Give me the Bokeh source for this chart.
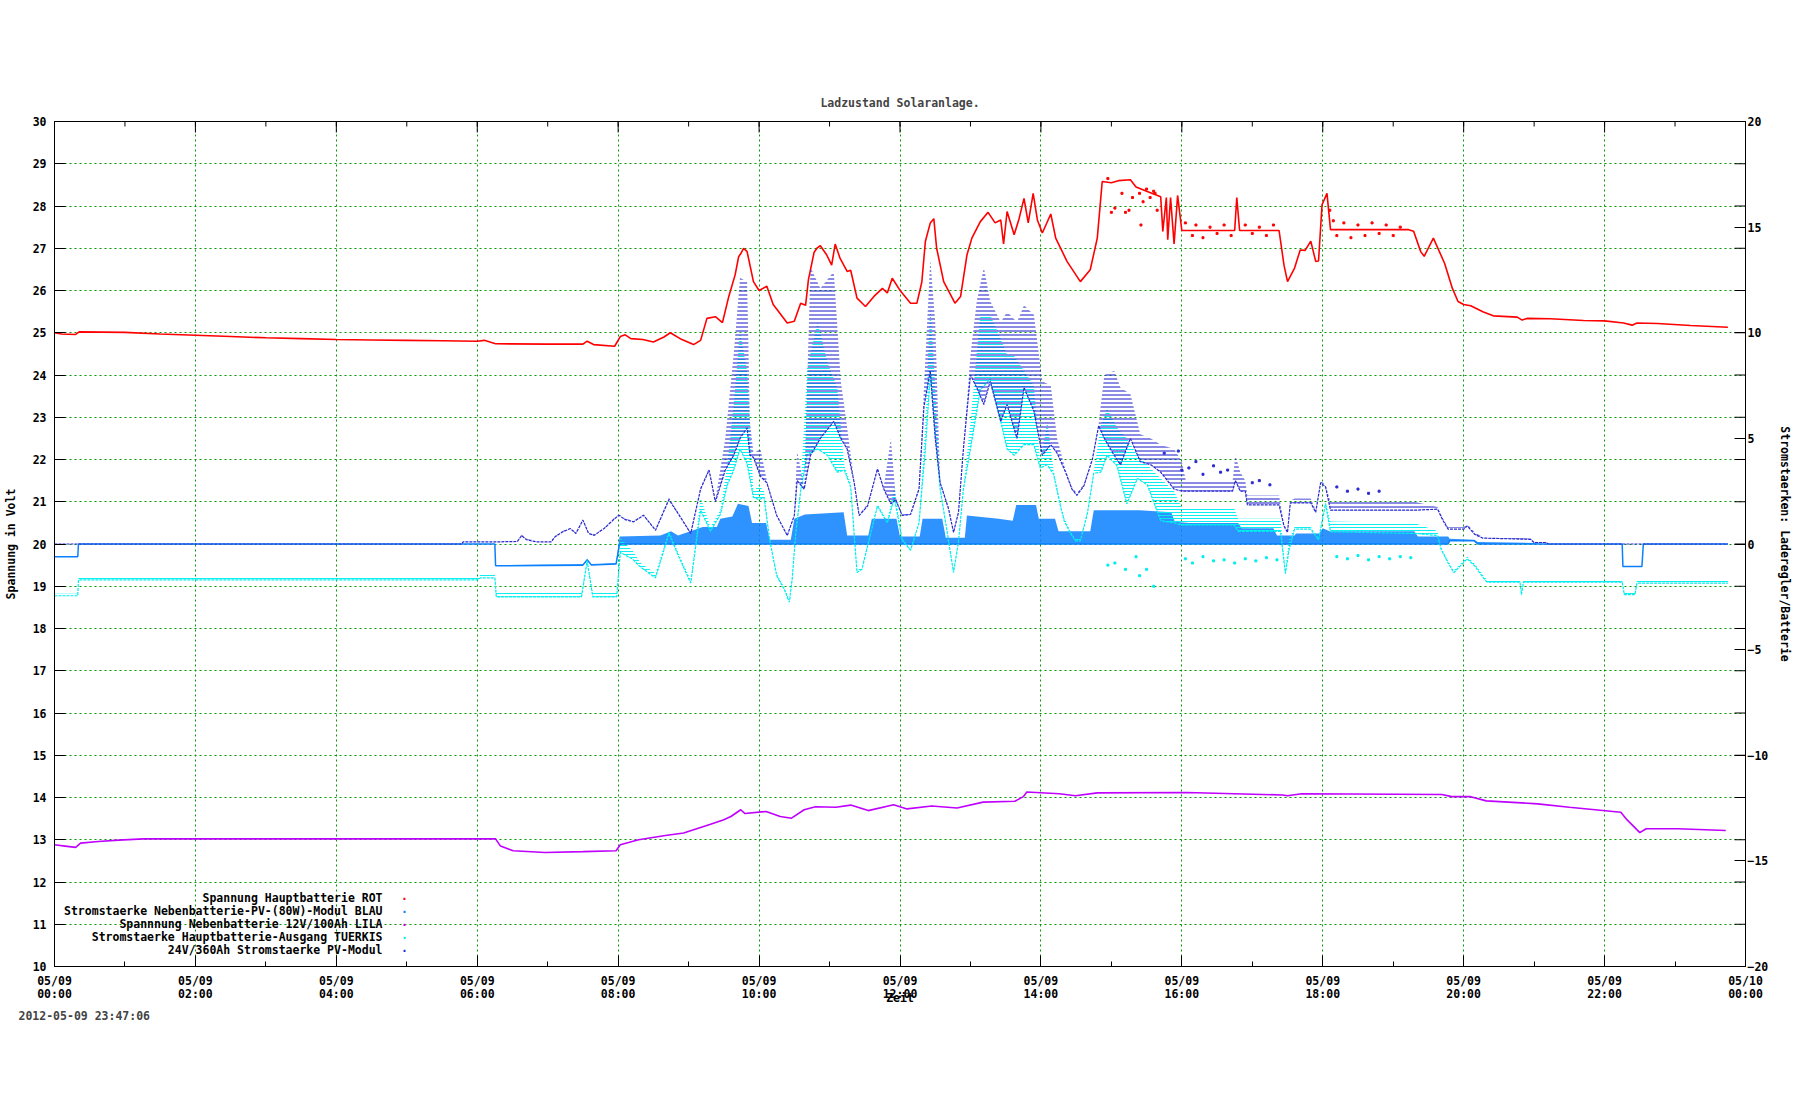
from bokeh.plotting import figure
from bokeh.models import Range1d, LinearAxis, FixedTicker, Label, Title
from bokeh.embed import file_html
from bokeh.resources import INLINE

# ---------------- data (hours since 05/09 00:00) ----------------
red_t = [0.0, 0.1, 0.3, 0.35, 1.0, 1.5, 2.0, 2.5, 3.0, 3.5, 4.0, 4.5, 5.0, 5.5, 6.0, 6.1, 6.26, 7.0, 7.5, 7.56, 7.65, 7.95,
         8.03, 8.1, 8.18, 8.35, 8.5, 8.65, 8.74, 8.88, 9.07, 9.17, 9.26, 9.38, 9.48, 9.57, 9.66, 9.71, 9.75, 9.78, 9.83,
         9.92, 10.0, 10.11, 10.2, 10.4, 10.5, 10.59, 10.66, 10.7, 10.78, 10.82, 10.87, 10.96, 11.03, 11.08, 11.15, 11.25,
         11.3, 11.39, 11.51, 11.63, 11.75, 11.82, 11.89, 12.01, 12.15, 12.24, 12.31, 12.36, 12.43, 12.48, 12.52, 12.62,
         12.78, 12.86, 12.95, 13.02, 13.14, 13.25, 13.35, 13.43, 13.47, 13.52, 13.62, 13.69, 13.76, 13.82, 13.89, 13.95,
         14.02, 14.14, 14.21, 14.37, 14.56, 14.7, 14.8, 14.87, 15.0, 15.1, 15.27, 15.35, 15.5, 15.7, 15.73, 15.78, 15.8,
         15.84, 15.89, 15.94, 16.0, 16.75, 16.78, 16.82, 17.38, 17.45, 17.5, 17.6, 17.68, 17.75, 17.83, 17.9, 17.94,
         17.99, 18.06, 18.11, 19.22, 19.29, 19.39, 19.44, 19.57, 19.73, 19.84, 19.92, 20.0, 20.1, 20.28, 20.42, 20.76,
         20.83, 20.9, 21.23, 21.7, 22.0, 22.27, 22.39, 22.46, 22.75, 23.22, 23.75]
red_v = [25.0, 24.97, 24.96, 25.02, 25.01, 24.97, 24.94, 24.91, 24.88, 24.86, 24.84, 24.83, 24.82, 24.81, 24.8, 24.82,
         24.74, 24.73, 24.73, 24.8, 24.72, 24.68, 24.91, 24.95, 24.86, 24.84, 24.78, 24.9, 25.0, 24.86, 24.72, 24.82,
         25.34, 25.38, 25.24, 25.86, 26.37, 26.8, 26.9, 27.0, 26.92, 26.21, 26.0, 26.1, 25.67, 25.23, 25.27, 25.7, 25.65,
         26.25, 26.9, 27.0, 27.06, 26.84, 26.6, 27.1, 26.76, 26.45, 26.48, 25.82, 25.62, 25.86, 26.05, 25.94, 26.29,
         25.98, 25.7, 25.7, 26.2, 27.16, 27.6, 27.7, 27.0, 26.21, 25.7, 25.86, 26.84, 27.24, 27.63, 27.85, 27.6, 27.67,
         27.1, 27.87, 27.32, 27.7, 28.18, 27.6, 28.3, 27.67, 27.36, 27.81, 27.24, 26.69, 26.21, 26.49, 27.24, 28.58,
         28.55, 28.6, 28.62, 28.45, 28.35, 28.22, 27.4, 28.2, 27.2, 28.2, 27.1, 28.25, 27.42, 27.42, 28.2, 27.42, 27.42,
         26.6, 26.21, 26.53, 26.96, 26.95, 27.17, 26.69, 26.7, 28.03, 28.3, 27.44, 27.44, 27.4, 26.92, 26.81, 27.24,
         26.64, 26.05, 25.74, 25.67, 25.64, 25.49, 25.4, 25.37, 25.3, 25.34, 25.33, 25.29, 25.28, 25.23, 25.18, 25.23,
         25.22, 25.17, 25.13]

red_dot_t = [14.95, 15.0, 15.05, 15.15, 15.2, 15.25, 15.3, 15.4, 15.42, 15.45, 15.5, 15.55, 15.6, 15.62, 15.65, 16.05,
             16.15, 16.2, 16.3, 16.4, 16.5, 16.6, 16.7, 16.9, 17.0, 17.1, 17.2, 17.3, 18.1, 18.15, 18.2, 18.3, 18.4,
             18.5, 18.6, 18.7, 18.8, 18.9, 19.0, 19.1]
red_dot_v = [28.65, 27.85, 27.95, 28.3, 27.85, 27.9, 28.2, 28.3, 27.55, 28.1, 28.4, 28.2, 28.35, 28.3, 27.9, 27.6,
             27.3, 27.55, 27.25, 27.5, 27.35, 27.55, 27.3, 27.55, 27.35, 27.5, 27.3, 27.55, 27.9, 27.65, 27.3, 27.6,
             27.25, 27.55, 27.3, 27.6, 27.35, 27.55, 27.3, 27.5]

purple_t = [0.0, 0.15, 0.3, 0.37, 0.62, 0.91, 1.26, 6.26, 6.33, 6.51, 6.96, 7.5, 7.97, 8.03, 8.29, 8.67, 8.93, 9.3,
            9.49, 9.6, 9.74, 9.8, 10.1, 10.3, 10.46, 10.64, 10.8, 11.09, 11.3, 11.55, 11.91, 12.1, 12.45, 12.81, 13.18,
            13.63, 13.75, 13.8, 14.26, 14.49, 14.8, 16.07, 17.43, 17.5, 17.7, 19.69, 19.83, 20.1, 20.32, 21.05, 21.5,
            22.23, 22.32, 22.5, 22.59, 23.04, 23.72]
purple_v = [12.88, 12.85, 12.82, 12.92, 12.96, 12.99, 13.02, 13.02, 12.85, 12.74, 12.7, 12.72, 12.74, 12.88, 13.0,
            13.1, 13.16, 13.36, 13.47, 13.55, 13.71, 13.62, 13.67, 13.55, 13.51, 13.71, 13.78, 13.77, 13.82, 13.69,
            13.83, 13.73, 13.8, 13.75, 13.89, 13.91, 14.02, 14.13, 14.09, 14.04, 14.11, 14.12, 14.06, 14.04, 14.09,
            14.07, 14.02, 14.02, 13.92, 13.85, 13.77, 13.65, 13.47, 13.17, 13.26, 13.26, 13.22]

# currents (right axis, A): time, lower / upper edge of the point cloud
blue_t = [0.0, 0.33, 0.34, 6.25, 6.26, 7.5, 7.56, 7.62, 7.97, 8.02, 8.6, 8.75, 8.85, 9.2, 9.4, 9.45, 9.62, 9.7, 9.85,
          9.9, 10.1, 10.15, 10.45, 10.5, 10.65, 11.2, 11.25, 11.55, 11.6, 11.95, 12.0, 12.28, 12.32, 12.6, 12.65, 12.92,
          12.95, 13.4, 13.6, 13.65, 13.93, 13.97, 14.2, 14.25, 14.7, 14.75, 15.4, 15.85, 15.9, 16.1, 16.8, 16.85, 17.3,
          17.35, 17.6, 17.62, 17.95, 18.0, 18.1, 19.3, 19.35, 19.78, 19.8, 20.15, 20.2, 21.0, 21.1, 22.25, 22.26, 22.53,
          22.55, 23.75]
blue_lo = [-0.6, -0.6, 0, 0, -1.03, -1.0, -0.75, -1.0, -0.95, 0, 0, 0, 0, 0, 0, 0, 0, 0, 0, 0, 0, 0, 0, 0, 0, 0, 0, 0,
           0, 0, 0, 0, 0, 0, 0, 0, 0, 0, 0, 0, 0, 0, 0, 0, 0, 0, 0, 0, 0, 0, 0, 0, 0, 0, 0, 0, 0, 0, 0, 0, 0, 0, 0.15,
           0.15, 0, 0, 0, 0, -1.07, -1.07, 0, 0]
blue_hi = [-0.6, -0.6, 0, 0, -1.0, -0.95, -0.7, -0.95, -0.9, 0.35, 0.4, 0.6, 0.4, 0.8, 0.8, 1.2, 1.3, 1.9, 1.8, 1.0,
           1.0, 0.2, 0.2, 1.2, 1.4, 1.5, 0.4, 0.4, 1.2, 1.2, 0.35, 0.35, 1.2, 1.2, 0.3, 0.3, 1.35, 1.2, 1.1, 1.85, 1.85,
           1.2, 1.2, 0.6, 0.6, 1.6, 1.6, 1.5, 1.05, 1.0, 1.0, 0.75, 0.75, 0.4, 0.4, 0.5, 0.5, 0.75, 0.6, 0.6, 0.36,
           0.36, 0.25, 0.2, 0.1, 0.05, 0, 0, -1.05, -1.05, 0, 0]

cyan_t = [0.0, 0.33, 0.34, 6.0, 6.05, 6.25, 6.27, 7.48, 7.56, 7.64, 7.98, 8.03, 8.2, 8.32, 8.53, 8.72, 8.88, 9.03,
          9.17, 9.31, 9.45, 9.55, 9.64, 9.73, 9.83, 9.92, 10.0, 10.07, 10.15, 10.25, 10.35, 10.43, 10.47, 10.52, 10.59,
          10.68, 10.83, 10.97, 11.11, 11.21, 11.3, 11.39, 11.46, 11.54, 11.68, 11.82, 11.92, 12.03, 12.15, 12.27,
          12.36, 12.43, 12.5, 12.57, 12.67, 12.76, 12.83, 12.9, 13.0, 13.14, 13.28, 13.43, 13.52, 13.62, 13.76, 13.9,
          13.99, 14.09, 14.18, 14.28, 14.33, 14.42, 14.49, 14.56, 14.66, 14.75, 14.85, 14.94, 15.08, 15.22, 15.37,
          15.51, 15.7, 15.89, 16.0, 16.74, 16.8, 17.4, 17.47, 17.52, 17.6, 17.83, 17.94, 18.04, 18.11, 19.3, 19.63,
          19.68, 19.78, 19.86, 19.95, 20.05, 20.16, 20.28, 20.33, 20.8, 20.82, 20.85, 22.25, 22.28, 22.43, 22.46, 23.75]
cyan_lo = [-2.45, -2.45, -1.7, -1.7, -1.6, -1.6, -2.5, -2.5, -0.8, -2.5, -2.5, -0.4, -0.7, -1.1, -1.6, 0.5, -0.75,
           -1.85, 1.6, 0.6, 1.4, 2.8, 3.5, 4.5, 3.8, 2.2, 2.1, 2.2, 0.2, -1.5, -2.1, -2.75, -1.65, 0.5, 2.5, 4.2, 4.5,
           4.2, 3.4, 3.5, 2.7, -1.35, -1.2, -0.1, 1.8, 1.0, 2.2, 0.2, -0.3, 1.0, 4.5, 8.0, 5.2, 2.6, 0.55, -1.35, 0.1,
           2.6, 4.5, 7.3, 7.8, 5.8, 4.5, 4.2, 4.7, 4.7, 3.6, 3.75, 3.3, 1.75, 1.1, 0.5, 0.15, 0.15, 1.45, 3.35, 3.4,
           4.2, 3.7, 1.9, 3.1, 2.8, 1.1, 1.0, 0.9, 0.9, 0.6, 0.6, -1.4, -0.3, 0.7, 0.7, 0.2, 1.9, 0.58, 0.5, 0.4,
           -0.25, -0.9, -1.35, -1.05, -0.7, -1.05, -1.6, -1.8, -1.8, -2.4, -1.8, -1.8, -2.4, -2.4, -1.85, -1.85]
cyan_hi = [-2.35, -2.35, -1.58, -1.58, -1.45, -1.45, -2.3, -2.3, -0.7, -2.3, -2.3, 0.27, -0.3, -0.9, -1.4, 0.65,
           -0.6, -1.7, 2.2, 0.8, 1.6, 3.8, 6.6, 10.1, 8.2, 2.5, 2.8, 2.5, 0.3, -1.4, -2.0, -2.6, -1.55, 0.65, 2.7, 8.3,
           10.5, 8.6, 7.4, 3.7, 2.9, -1.25, -1.1, 0.0, 1.9, 1.1, 2.7, 0.3, -0.25, 1.1, 5.8, 11.3, 7.4, 2.7, 0.65,
           -1.25, 0.15, 2.7, 5.8, 10.85, 10.85, 9.7, 8.95, 8.9, 8.2, 7.5, 3.8, 5.8, 3.5, 1.9, 1.25, 0.6, 0.25, 0.25,
           1.55, 3.45, 5.6, 6.4, 5.5, 5.0, 4.2, 3.75, 3.1, 2.5, 1.7, 1.7, 1.2, 1.2, -1.2, 0.2, 0.8, 0.8, 0.3, 2.0,
           1.07, 1.0, 0.6, -0.15, -0.8, -1.25, -0.95, -0.6, -0.95, -1.5, -1.68, -1.68, -2.3, -1.68, -1.68, -2.3, -2.3,
           -1.7, -1.7]
cyan_dot_t = [14.95, 15.05, 15.2, 15.35, 15.4, 15.5, 15.6, 16.05, 16.15, 16.3, 16.45, 16.6, 16.75, 16.9, 17.05, 17.2,
              17.35, 18.2, 18.35, 18.5, 18.65, 18.8, 18.95, 19.1, 19.25]
cyan_dot_a = [-1.0, -0.9, -1.2, -0.6, -1.5, -1.2, -2.0, -0.7, -0.9, -0.6, -0.8, -0.75, -0.9, -0.7, -0.8, -0.65, -0.75,
              -0.6, -0.7, -0.55, -0.75, -0.6, -0.7, -0.6, -0.65]

violet_t = [0.0, 5.78, 5.8, 6.26, 6.57, 6.63, 6.7, 6.84, 7.05, 7.1, 7.21, 7.32, 7.4, 7.5, 7.58, 7.66, 7.8, 7.95, 8.01,
            8.1, 8.22, 8.36, 8.53, 8.72, 8.84, 9.03, 9.17, 9.29, 9.38, 9.52, 9.64, 9.73, 9.83, 9.87, 9.92, 10.02, 10.11,
            10.25, 10.4, 10.5, 10.54, 10.64, 10.73, 10.87, 11.06, 11.16, 11.25, 11.35, 11.42, 11.54, 11.68, 11.77,
            11.87, 11.94, 12.03, 12.15, 12.27, 12.34, 12.43, 12.5, 12.57, 12.69, 12.76, 12.83, 12.9, 13.0, 13.09,
            13.19, 13.28, 13.43, 13.52, 13.66, 13.76, 13.9, 14.02, 14.14, 14.23, 14.35, 14.44, 14.51, 14.61, 14.73,
            14.82, 14.9, 15.04, 15.13, 15.27, 15.41, 15.56, 15.7, 15.89, 16.0, 16.06, 16.72, 16.76, 16.83, 16.9, 16.93,
            17.38, 17.45, 17.5, 17.54, 17.6, 17.83, 17.9, 17.97, 18.04, 18.11, 19.3, 19.63, 19.7, 19.78, 20.0, 20.05,
            20.16, 20.27, 20.95, 21.0, 21.17, 21.2, 23.75]
violet_lo = [0, 0, 0.1, 0.1, 0.12, 0.4, 0.2, 0.1, 0.1, 0.33, 0.57, 0.73, 0.5, 1.13, 0.5, 0.41, 0.73, 1.2, 1.36, 1.15,
             1.05, 1.36, 0.65, 2.1, 1.5, 0.5, 2.6, 3.5, 2.0, 3.5, 4.2, 5.0, 5.5, 4.2, 4.1, 3.2, 2.9, 1.35, 0.4, 1.35,
             3.0, 2.6, 4.2, 5.0, 5.8, 5.0, 4.5, 2.9, 1.35, 1.8, 3.55, 2.6, 1.9, 2.1, 1.35, 1.4, 2.6, 6.5, 8.2, 5.0, 2.9,
             1.65, 0.55, 1.5, 4.5, 8.0, 7.4, 6.6, 7.7, 5.8, 6.6, 5.0, 7.4, 6.3, 4.2, 4.7, 4.3, 3.4, 2.6, 2.3, 2.75, 4.0,
             5.6, 5.0, 4.2, 3.75, 5.0, 3.9, 3.75, 3.4, 2.6, 2.5, 2.5, 2.5, 3.0, 2.5, 2.5, 1.85, 1.85, 0.85, 0.55, 1.95,
             1.95, 1.95, 1.5, 2.9, 2.7, 1.6, 1.6, 1.65, 1.15, 0.7, 0.7, 0.85, 0.45, 0.28, 0.22, 0.07, 0.07, 0, 0]
violet_hi = [0, 0, 0.14, 0.14, 0.16, 0.45, 0.25, 0.15, 0.15, 0.37, 0.61, 0.77, 0.55, 1.17, 0.55, 0.45, 0.77, 1.25,
             1.4, 1.2, 1.1, 1.4, 0.7, 2.2, 1.55, 0.55, 2.7, 3.6, 2.1, 5.0, 9.0, 12.6, 12.4, 5.8, 4.3, 4.5, 3.0, 1.4,
             0.45, 1.4, 4.4, 2.7, 13.1, 12.1, 12.9, 7.7, 5.5, 3.0, 1.4, 1.9, 3.65, 2.7, 5.0, 2.2, 1.4, 1.5, 2.7, 7.4,
             13.5, 10.5, 3.0, 1.75, 0.6, 1.55, 4.6, 8.95, 11.5, 13.1, 11.5, 10.5, 11.0, 10.5, 11.3, 10.85, 7.7, 7.5,
             5.0, 3.5, 2.7, 2.4, 2.85, 4.1, 5.7, 8.0, 8.2, 7.4, 7.1, 5.2, 5.0, 4.7, 4.5, 3.9, 2.95, 2.95, 4.2, 3.4, 3.0,
             2.3, 2.3, 0.95, 0.6, 2.05, 2.15, 2.15, 1.6, 3.0, 2.8, 2.0, 2.0, 1.75, 1.25, 0.8, 0.8, 0.95, 0.55, 0.33,
             0.26, 0.11, 0.11, 0, 0]
violet_dot_t = [15.75, 15.95, 16.0, 16.1, 16.2, 16.3, 16.45, 16.55, 16.65, 17.0, 17.1, 17.25, 18.2, 18.35, 18.5,
                18.65, 18.8]
violet_dot_a = [4.3, 4.4, 3.5, 3.6, 3.9, 3.3, 3.7, 3.4, 3.5, 2.9, 3.0, 2.8, 2.7, 2.5, 2.6, 2.4, 2.5]

x_ticks = [0, 2, 4, 6, 8, 10, 12, 14, 16, 18, 20, 22, 24]
x_minor = list(range(0, 25))
x_tick_labels = ["05/09\n00:00", "05/09\n02:00", "05/09\n04:00", "05/09\n06:00", "05/09\n08:00", "05/09\n10:00",
                 "05/09\n12:00", "05/09\n14:00", "05/09\n16:00", "05/09\n18:00", "05/09\n20:00", "05/09\n22:00",
                 "05/10\n00:00"]
y_ticks = list(range(10, 31))
y2_ticks = [-20, -15, -10, -5, 0, 5, 10, 15, 20]

legend_texts = ["Spannung Hauptbatterie ROT",
                "Stromstaerke Nebenbatterie-PV-(80W)-Modul BLAU",
                "Spannnung Nebenbatterie 12V/100Ah LILA",
                "Stromstaerke Hauptbatterie-Ausgang TUERKIS",
                "24V/360Ah Stromstaerke PV-Modul"]
legend_colors = ["#ff0000", "#0a80ff", "#c000ff", "#00eeee", "#2a2ad0"]

# ---------------- style ----------------
FONT = "DejaVu Sans Mono"
FS = "11.5px"
RED, BLUE, PURPLE, CYAN, VIOLET = legend_colors
GRID = "#009900"
X0, X1, Y0, Y1 = 0, 24, 10, 30
FRAME_W, FRAME_H = 1691, 845
TICK, MINOR = 11, 5  # inward tick lengths in px

p = figure(frame_width=FRAME_W, frame_height=FRAME_H, output_backend="svg", toolbar_location=None,
           x_range=Range1d(X0, X1), y_range=Range1d(Y0, Y1),
           min_border_left=46, min_border_right=0, min_border_top=121, min_border_bottom=118,
           background_fill_color="white", border_fill_color="white")
p.outline_line_color = "black"
p.outline_line_width = 1
p.extra_y_ranges = {"cur": Range1d(-20, 20)}

p.title.text = "Ladzustand Solaranlage."
p.title.align = "center"
p.title.text_font = FONT
p.title.text_font_size = FS
p.title.text_font_style = "bold"
p.title.standoff = 23


def style(ax):
    ax.axis_line_color = "black"
    ax.major_tick_in = TICK
    ax.major_tick_out = 0
    ax.minor_tick_in = MINOR
    ax.minor_tick_out = 0
    ax.major_tick_line_color = "black"
    ax.minor_tick_line_color = "black"
    ax.major_label_text_font = FONT
    ax.major_label_text_font_size = FS
    ax.major_label_text_font_style = "bold"
    ax.major_label_text_color = "black"
    ax.axis_label_text_font = FONT
    ax.axis_label_text_font_size = FS
    ax.axis_label_text_font_style = "bold"
    ax.axis_label_text_color = "black"


xa = p.xaxis[0]
xa.ticker = FixedTicker(ticks=x_ticks, minor_ticks=x_minor)
xa.major_label_overrides = {t: s for t, s in zip(x_ticks, x_tick_labels)}
style(xa)
xa.major_label_standoff = 7
xa.major_label_text_line_height = 0.97
xa.axis_label = "Zeit"
xa.axis_label_standoff = -13

ya = p.yaxis[0]
ya.ticker = FixedTicker(ticks=y_ticks, minor_ticks=[])
style(ya)
ya.major_label_standoff = 8
ya.axis_label = "Spannung in Volt"
ya.axis_label_standoff = 12

ra = LinearAxis(y_range_name="cur", ticker=FixedTicker(ticks=y2_ticks, minor_ticks=[]))
style(ra)
ra.major_label_standoff = 2
ra.axis_label = "Stromstaerken: Laderegler/Batterie"
ra.axis_label_standoff = 7
p.add_layout(ra, "right")

stamp = Title(text="2012-05-09 23:47:06", align="left", offset=-36, standoff=0, vertical_align="top",
              text_font=FONT, text_font_size=FS, text_font_style="bold")
p.add_layout(stamp, "below")

for g in (p.xgrid[0], p.ygrid[0]):
    g.grid_line_color = GRID
    g.grid_line_dash = "2 3"
    g.grid_line_width = 1

# mirrored tick marks on top and right border (derived from the tick lists)
dy_major = TICK * (Y1 - Y0) / FRAME_H
dy_minor = MINOR * (Y1 - Y0) / FRAME_H
dx_major = TICK * (X1 - X0) / FRAME_W
p.segment(x0=x_ticks, y0=[Y1] * len(x_ticks), x1=x_ticks, y1=[Y1 - dy_major] * len(x_ticks),
          line_color="black", line_width=1)
p.segment(x0=x_minor, y0=[Y1] * len(x_minor), x1=x_minor, y1=[Y1 - dy_minor] * len(x_minor),
          line_color="black", line_width=1)
p.segment(x0=[X1] * len(y_ticks), y0=y_ticks, x1=[X1 - dx_major] * len(y_ticks), y1=y_ticks,
          line_color="black", line_width=1)

# ---------------- series ----------------
p.line(red_t, red_v, line_color=RED, line_width=1.6)
p.scatter(red_dot_t, red_dot_v, marker="square", size=2, color=RED)

p.varea(x=blue_t, y1=blue_lo, y2=blue_hi, y_range_name="cur", fill_color=BLUE, fill_alpha=0.85)
p.line(blue_t, blue_lo, y_range_name="cur", line_color=BLUE, line_width=1.5)

p.line(purple_t, purple_v, line_color=PURPLE, line_width=1.6)

p.varea(x=cyan_t, y1=cyan_lo, y2=cyan_hi, y_range_name="cur", fill_alpha=0,
        hatch_pattern="horizontal_line", hatch_color=CYAN, hatch_alpha=0.95, hatch_scale=3, hatch_weight=1)
p.line(cyan_t, cyan_lo, y_range_name="cur", line_color=CYAN, line_width=1.2, line_dash="3 1")
p.scatter(cyan_dot_t, cyan_dot_a, y_range_name="cur", marker="square", size=2, color=CYAN)

p.varea(x=violet_t, y1=violet_lo, y2=violet_hi, y_range_name="cur", fill_alpha=0,
        hatch_pattern="horizontal_line", hatch_color=VIOLET, hatch_alpha=1.0, hatch_scale=4, hatch_weight=1.1)
p.line(violet_t, violet_lo, y_range_name="cur", line_color=VIOLET, line_width=1.2, line_dash="3 1")
p.scatter(violet_dot_t, violet_dot_a, y_range_name="cur", marker="square", size=2, color=VIOLET)

# ---------------- legend (inside the frame, right-aligned texts) ----------------
for i, s in enumerate(legend_texts):
    p.add_layout(Label(x=328, y=69 - 13 * i, x_units="screen", y_units="screen", text=s, text_font=FONT,
                       text_font_size=FS, text_font_style="bold", text_color="black",
                       text_align="right", text_baseline="middle"))
    p.add_layout(Label(x=350, y=71 - 13 * i, x_units="screen", y_units="screen", text=".", text_font=FONT,
                       text_font_size=FS, text_font_style="bold", text_color=legend_colors[i],
                       text_align="center", text_baseline="middle"))

open("out.html", "w").write(file_html(p, INLINE))
